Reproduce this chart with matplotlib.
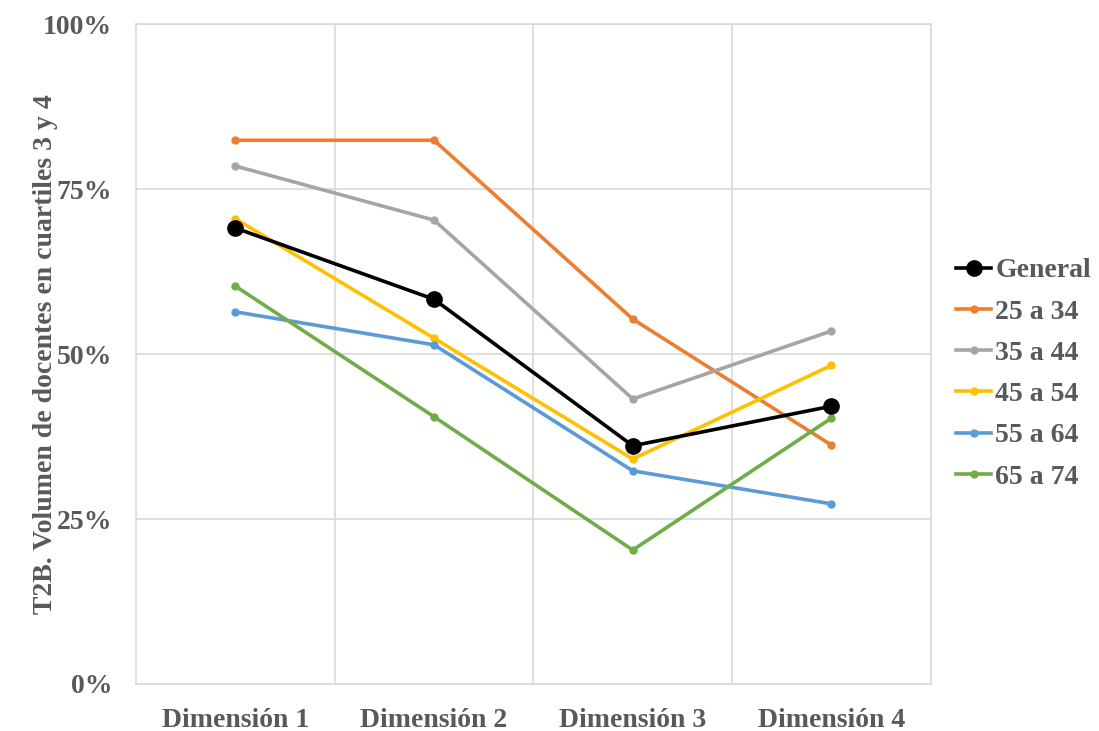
import matplotlib.pyplot as plt
import numpy as np

# ── data ─────────────────────────────────────────────────────────────────────
dimensiones = ["Dimensión 1", "Dimensión 2", "Dimensión 3", "Dimensión 4"]
general  = [69.1, 58.3, 36.1, 42.1]
g25_34   = [82.4, 82.4, 55.3, 36.2]
g35_44   = [78.5, 70.3, 43.2, 53.5]
g45_54   = [70.5, 52.4, 34.1, 48.3]
g55_64   = [56.4, 51.4, 32.3, 27.3]
g65_74   = [60.3, 40.5, 20.3, 40.3]

series = [
    ("General", general, "black"),
    ("25 a 34", g25_34, "#ED7D31"),
    ("35 a 44", g35_44, "#A5A5A5"),
    ("45 a 54", g45_54, "#FFC000"),
    ("55 a 64", g55_64, "#5B9BD5"),
    ("65 a 74", g65_74, "#70AD47"),
]

plt.rcParams["font.family"] = ["Liberation Serif", "DejaVu Serif"]
TXT = "#595959"
FS = 20

fig = plt.figure(figsize=(10.99, 7.31), dpi=100)
ax = fig.add_axes([0.1237, 0.0643, 0.7233, 0.9027])

x = np.arange(len(dimensiones))
# age groups first, general line on top
for name, vals, col in series[1:] + series[:1]:
    big = name == "General"
    ax.plot(x, vals, color=col, lw=2.6, marker="o",
            ms=11 if big else 5, label=name, zorder=4 if big else 3)

ax.set_xlim(-0.5, 3.5)
ax.set_ylim(0, 100)
ax.set_yticks([0, 25, 50, 75, 100])
ax.set_yticklabels(["0%", "25%", "50%", "75%", "100%"])
ax.set_xticks(x)
ax.set_xticklabels(dimensiones)
ax.set_xticks([0.5, 1.5, 2.5], minor=True)

ax.grid(True, axis="y", color="#D9D9D9", lw=1.2)
ax.grid(True, axis="x", which="minor", color="#D9D9D9", lw=1.2)
ax.set_axisbelow(True)
for s in ax.spines.values():
    s.set_color("#D9D9D9")
    s.set_linewidth(1.2)
ax.tick_params(which="both", length=0)
ax.tick_params(axis="x", pad=17)
ax.tick_params(axis="y", pad=17)
for lab in ax.get_xticklabels() + ax.get_yticklabels():
    lab.set_fontsize(FS)
    lab.set_fontweight("bold")
    lab.set_color(TXT)

ax.set_ylabel("T2B. Volumen de docentes en cuartiles 3 y 4",
              fontsize=FS, fontweight="bold", color=TXT)
ax.yaxis.set_label_coords(-0.098, 0.5)

handles, labels = ax.get_legend_handles_labels()
order = [labels.index(s[0]) for s in series]
leg = ax.legend([handles[i] for i in order], [labels[i] for i in order],
                loc="center left", bbox_to_anchor=(1.018, 0.47), frameon=False,
                prop={"size": FS, "weight": "bold"}, handlelength=1.25,
                handletextpad=0.15, labelspacing=0.57, borderaxespad=0)
for t in leg.get_texts():
    t.set_color(TXT)

plt.savefig("out.png", dpi=100)
